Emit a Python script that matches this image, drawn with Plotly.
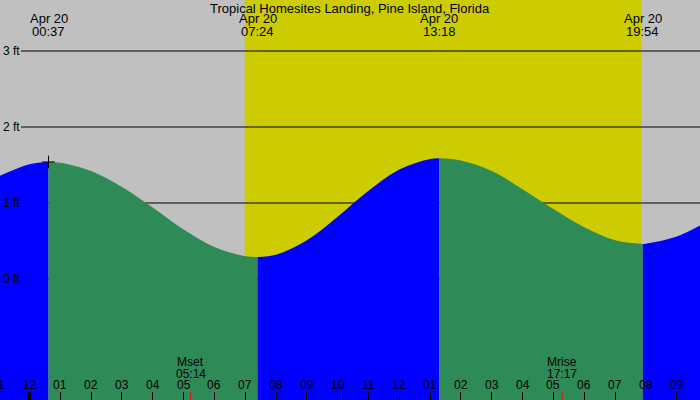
import plotly.graph_objects as go

# ---------------- data ----------------
location = "Tropical Homesites Landing, Pine Island, Florida"
date_label = "Apr 20"

# tide extremes (hours after midnight), labels and heights (ft)
ext_times = [0.617, 7.4, 13.3, 19.9]
ext_labels = ["00:37", "07:24", "13:18", "19:54"]
ext_heights = [1.54, 0.29, 1.59, 0.46]

# hourly tide heights (ft)
hour_times = [-1, 0, 1, 2, 3, 4, 5, 6, 7, 8, 9, 10, 11, 12, 13, 14, 15, 16, 17, 18, 19, 20, 21, 22]
hour_heights = [1.35, 1.51, 1.53, 1.42, 1.21, 0.94, 0.65, 0.42, 0.30, 0.32, 0.51, 0.82,
                1.16, 1.44, 1.58, 1.56, 1.42, 1.18, 0.92, 0.68, 0.51, 0.465, 0.56, 0.76]

# daylight (sunrise, sunset)
sun_times = [6.983, 19.867]

# moon events
moon_times = [5.233, 17.283]
moon_names = ["Mset", "Mrise"]
moon_labels = ["05:14", "17:17"]

levels = [0, 1, 2, 3]
level_labels = [f"{v} ft" for v in levels]

tick_hours = list(range(-1, 22))
tick_labels = [f"{((h - 1) % 12) + 1:02d}" for h in tick_hours]

# ---------------- styling ----------------
W, H = 700, 400
X_RANGE = [-0.9572, 21.756]
Y_RANGE = [-1.592, 3.671]
PX_PER_HOUR = W / (X_RANGE[1] - X_RANGE[0])
BG = "#C0C0C0"
DAY = "#CCCC00"
RISE = "#0000FF"
FALL = "#2E8B57"
FONT = "Liberation Sans, Arial, sans-serif"

fig = go.Figure()

pts = sorted(list(zip(hour_times, hour_heights)) + list(zip(ext_times, ext_heights)))
bounds = [hour_times[0]] + ext_times + [hour_times[-1]]
bottom = Y_RANGE[0] - 1
for a, b in zip(bounds[:-1], bounds[1:]):
    seg = [(t, h) for t, h in pts if a <= t <= b]
    xs = [p[0] for p in seg]
    ys = [p[1] for p in seg]
    color = RISE if ys[-1] > ys[0] else FALL
    fig.add_trace(go.Scatter(x=[a, b], y=[bottom, bottom], mode="lines",
                             line=dict(width=0, color=color), hoverinfo="skip",
                             showlegend=False))
    fig.add_trace(go.Scatter(x=xs, y=ys, mode="lines", line=dict(width=0, color=color, shape="spline"),
                             fill="tonexty", fillcolor=color, hoverinfo="skip", showlegend=False))

# marker at first high tide
fig.add_trace(go.Scatter(x=[ext_times[0]], y=[ext_heights[0]], mode="markers",
                         marker=dict(symbol="cross-thin", size=9, line=dict(width=1, color="black")),
                         showlegend=False, hoverinfo="skip"))

shapes = [dict(type="rect", xref="x", yref="paper", x0=sun_times[0], x1=sun_times[1], y0=0, y1=1,
               fillcolor=DAY, line=dict(width=0), layer="below")]
for v in levels:
    shapes.append(dict(type="line", xref="paper", yref="y", x0=0.03, x1=1, y0=v, y1=v,
                       line=dict(color="black", width=1), layer="below"))
# midnight heavy tick
shapes.append(dict(type="line", xref="x", yref="paper", x0=0, x1=0, y0=0, y1=0.02,
                   line=dict(color="black", width=3)))
for t in moon_times:
    shapes.append(dict(type="line", xref="x", yref="paper", x0=t, x1=t, y0=0, y1=0.02,
                       line=dict(color="red", width=1)))

ann = []
ann.append(dict(text=location, x=0.5, y=1 - 8 / H, xref="paper", yref="paper",
                showarrow=False, font=dict(size=13), yanchor="middle"))
for t, lab in zip(ext_times, ext_labels):
    ann.append(dict(text=date_label, x=t, y=1 - 19 / H, xref="x", yref="paper",
                    showarrow=False, font=dict(size=13), yanchor="middle"))
    ann.append(dict(text=lab, x=t, y=1 - 32 / H, xref="x", yref="paper",
                    showarrow=False, font=dict(size=13), yanchor="middle"))
for v, lab in zip(levels, level_labels):
    ann.append(dict(text=lab, x=0, y=v, xref="paper", yref="y", xanchor="left", xshift=1,
                    showarrow=False, font=dict(size=12), yanchor="middle"))
for hr, lab in zip(tick_hours, tick_labels):
    xa = min(max(hr, X_RANGE[0]), X_RANGE[1])
    ann.append(dict(text=lab, x=xa, xshift=(hr - xa) * PX_PER_HOUR, y=15 / H, xref="x", yref="paper",
                    showarrow=False, font=dict(size=12), yanchor="middle"))
for t, nm, lab in zip(moon_times, moon_names, moon_labels):
    ann.append(dict(text=nm, x=t, y=38 / H, xref="x", yref="paper",
                    showarrow=False, font=dict(size=12), yanchor="middle"))
    ann.append(dict(text=lab, x=t, y=26 / H, xref="x", yref="paper",
                    showarrow=False, font=dict(size=12), yanchor="middle"))

fig.update_layout(
    width=W, height=H, margin=dict(l=0, r=0, t=0, b=0),
    paper_bgcolor=BG, plot_bgcolor=BG,
    font=dict(family=FONT, color="black", size=12),
    shapes=shapes, annotations=ann, showlegend=False,
    xaxis=dict(range=X_RANGE, showgrid=False, zeroline=False, showticklabels=False,
               tickvals=tick_hours, ticks="inside", ticklen=8, tickcolor="black", tickwidth=1,
               showline=False, fixedrange=True),
    yaxis=dict(range=Y_RANGE, showgrid=False, zeroline=False, showticklabels=False,
               showline=False, fixedrange=True),
)

fig.write_html("out.html", config={"displayModeBar": False},
               post_script="document.body.style.margin='0';document.body.style.overflow='hidden';")
